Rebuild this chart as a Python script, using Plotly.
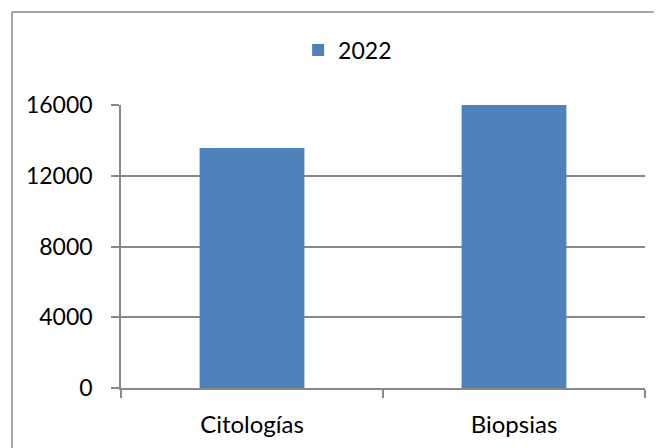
import plotly.graph_objects as go

categories = ['Citologías', 'Biopsias']
values_2022 = [13570, 16000]
y_ticks = [0, 4000, 8000, 12000, 16000]
y_tick_labels = ['0', '4000', '8000', '12000', '16000']

fig = go.Figure()

fig.add_trace(go.Bar(x=categories,
                     y=values_2022,
                     name='2022',
                     marker=dict(color='#4F81BD', line=dict(width=0))))

fig.update_layout(width=662, height=448,
                  margin=dict(l=113, r=25, t=97, b=68, autoexpand=False),
                  paper_bgcolor='white',
                  plot_bgcolor='white',
                  bargap=0.6,
                  font=dict(family='Lato', size=23, color='black'),
                  showlegend=True,
                  legend=dict(orientation='h', x=0.338, xanchor='left',
                              y=1.194, yanchor='middle',
                              font=dict(size=23),
                              itemwidth=30))

fig.update_yaxes(range=[0, 16000],
                 tickvals=y_ticks, ticktext=y_tick_labels,
                 tickfont=dict(size=23),
                 showgrid=True, gridcolor='#888888', gridwidth=1.5,
                 showline=True, linecolor='#888888', linewidth=1.5,
                 ticks='outside', ticklen=8, tickcolor='#888888', tickwidth=1.5,
                 ticklabelstandoff=14,
                 zeroline=False)

fig.update_xaxes(showgrid=False,
                 tickfont=dict(size=24),
                 showline=True, linecolor='#888888', linewidth=1.5,
                 ticks='outside', tickson='boundaries', ticklen=8,
                 tickcolor='#888888', tickwidth=1.5,
                 ticklabelstandoff=14)

# chart area border (only top and left are visible in the frame)
fig.add_shape(type='line', xref='paper', yref='paper',
              x0=-0.208, x1=1.2, y0=1.3286, y1=1.3286,
              line=dict(color='#888888', width=1.5))
fig.add_shape(type='line', xref='paper', yref='paper',
              x0=-0.208, x1=-0.208, y0=-1, y1=1.3286,
              line=dict(color='#888888', width=1.5))

fig.write_html("out.html")
